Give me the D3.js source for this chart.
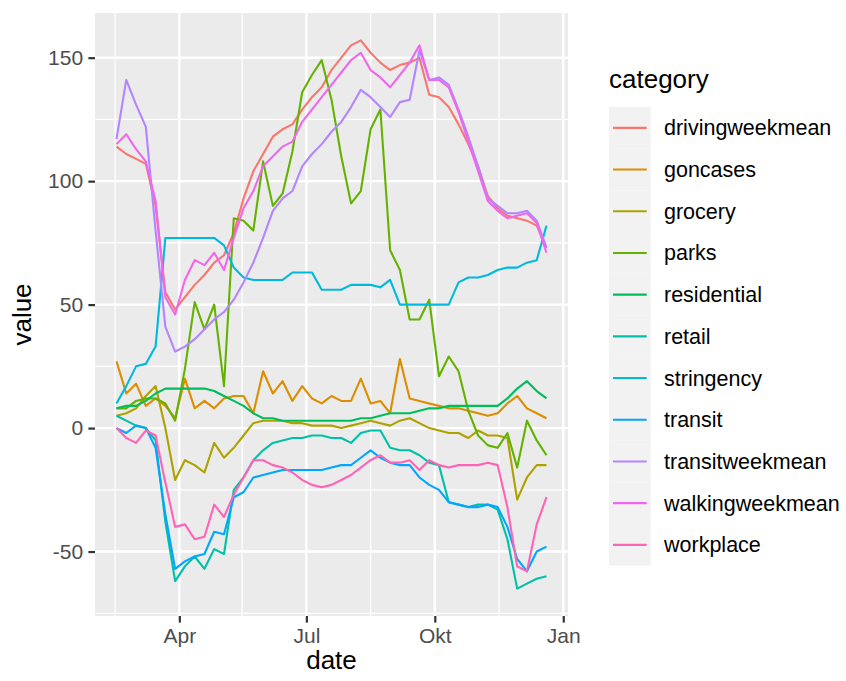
<!DOCTYPE html>
<html><head><meta charset="utf-8">
<script src="https://cdn.jsdelivr.net/npm/d3@7"></script>
<style>
body{margin:0;background:#fff;}
svg text{font-family:"Liberation Sans", Arial, sans-serif;}
</style>
</head><body>
<svg id="chart" width="846" height="681"></svg>
<script>
const dates = ["2020-02-16","2020-02-23","2020-03-01","2020-03-08","2020-03-15","2020-03-22","2020-03-29","2020-04-05","2020-04-12","2020-04-19","2020-04-26","2020-05-03","2020-05-10","2020-05-17","2020-05-24","2020-05-31","2020-06-07","2020-06-14","2020-06-21","2020-06-28","2020-07-05","2020-07-12","2020-07-19","2020-07-26","2020-08-02","2020-08-09","2020-08-16","2020-08-23","2020-08-30","2020-09-06","2020-09-13","2020-09-20","2020-09-27","2020-10-04","2020-10-11","2020-10-18","2020-10-25","2020-11-01","2020-11-08","2020-11-15","2020-11-22","2020-11-29","2020-12-06","2020-12-13","2020-12-20"];

const categories = ["drivingweekmean","goncases","grocery","parks","residential","retail","stringency","transit","transitweekmean","walkingweekmean","workplace"];
const colors = ["#F8766D","#DB8E00","#AEA200","#64B200","#00BD5C","#00C1A7","#00BADE","#00A6FF","#B385FF","#EF67EB","#FF63B6"];

const drivingweekmean = [114,111,109,107,90,55,48,53,58,62,67,70,79,93,104,111,118,121,123,129,134,138,145,150,155,157,152,148,145,147,148,150,135,134,130,123,115,106,94,89,86,85,84,82,73];
const goncases = [27,14,18,9,12,9,4,20,8,11,8,12,13,13,6,23,14,19,11,17,12,10,13,11,11,20,10,11,6,28,12,11,10,9,8,8,7,6,5,6,10,13,8,6,4];
const grocery = [5,6,8,13,17,0,-21,-13,-15,-18,-6,-12,-8,-3,2,3,3,3,2,2,1,1,1,0,1,2,3,2,1,3,4,2,0,-1,-2,-2,-4,-1,-3,-3,-4,-29,-20,-15,-15];
const parks = [8,8,11,12,12,10,3,24,51,40,50,17,85,84,80,108,90,95,112,136,143,149,133,110,91,96,121,129,72,64,44,44,52,21,29,23,7,-3,-7,-8,-2,-16,3,-5,-11];
const residential = [8,9,9,11,14,16,16,16,16,16,15,13,11,9,6,4,4,3,3,3,3,3,3,3,3,4,4,5,6,6,6,7,8,8,9,9,9,9,9,9,12,16,19,15,12];
const retail = [5,3,1,0,-5,-38,-62,-56,-52,-57,-49,-51,-25,-20,-13,-9,-6,-5,-4,-4,-3,-3,-4,-4,-6,-2,-1,-1,-8,-9,-9,-11,-14,-15,-30,-31,-32,-31,-31,-33,-45,-65,-63,-61,-60];
const stringency = [10,17,25,26,33,77,77,77,77,77,77,74,65,61,60,60,60,60,63,63,63,56,56,56,58,58,58,57,60,50,50,50,50,50,50,59,61,61,62,64,65,65,67,68,82];
const transit = [0,-2,1,0,-8,-35,-57,-54,-52,-51,-42,-43,-28,-26,-20,-19,-18,-17,-17,-17,-17,-17,-16,-15,-15,-12,-9,-12,-14,-15,-15,-20,-23,-25,-30,-31,-32,-32,-31,-32,-40,-53,-58,-50,-48];
const transitweekmean = [117,141,131,122,80,41,31,33,36,40,44,47,52,59,67,77,88,93,96,106,111,115,120,124,130,137,134,130,126,132,133,153,141,142,139,129,118,106,93,90,87,87,88,84,73];
const walkingweekmean = [115,119,113,108,92,53,46,60,68,66,71,64,77,89,96,106,110,114,116,124,129,134,139,144,149,152,145,142,138,143,148,155,141,141,138,128,116,104,92,88,85,86,87,83,71];
const workplace = [0,-4,-6,-1,-3,-22,-40,-39,-45,-44,-31,-36,-27,-20,-13,-13,-15,-16,-18,-21,-23,-24,-23,-21,-19,-16,-13,-11,-14,-14,-13,-17,-13,-15,-16,-15,-15,-15,-14,-15,-32,-56,-58,-39,-28];

const xTickDates = ["2020-04-01","2020-07-01","2020-10-01","2021-01-01"];
const xTickLabels = ["Apr","Jul","Okt","Jan"];
const xMinorDates = ["2020-02-15","2020-05-16","2020-08-16","2020-11-16"];
const yTicks = [-50,0,50,100,150];
const yMinor = [-75,-25,25,75,125];

const seriesValues = [drivingweekmean,goncases,grocery,parks,residential,retail,stringency,transit,transitweekmean,walkingweekmean,workplace];

const parse = d3.utcParse("%Y-%m-%d");
const dateObjs = dates.map(parse);

const panel = {left:95, right:568, top:13, bottom:616};
const svg = d3.select("#chart");

const xExt = d3.extent(dateObjs);
const xSpan = xExt[1] - xExt[0];
const x = d3.scaleUtc()
  .domain([new Date(+xExt[0] - 0.05*xSpan), new Date(+xExt[1] + 0.05*xSpan)])
  .range([panel.left, panel.right]);
const allVals = seriesValues.flat();
const yExt = d3.extent(allVals);
const ySpan = yExt[1]-yExt[0];
const y = d3.scaleLinear()
  .domain([yExt[0]-0.05*ySpan, yExt[1]+0.05*ySpan])
  .range([panel.bottom, panel.top]);

svg.append("rect").attr("x",panel.left).attr("y",panel.top)
  .attr("width",panel.right-panel.left).attr("height",panel.bottom-panel.top)
  .attr("fill","#EBEBEB");

const grid = svg.append("g");
grid.selectAll(".ym").data(yMinor.filter(v=>v>=y.domain()[0] && v<=y.domain()[1])).enter().append("line")
  .attr("x1",panel.left).attr("x2",panel.right)
  .attr("y1",d=>y(d)).attr("y2",d=>y(d))
  .attr("stroke","#fff").attr("stroke-width",1.2);
grid.selectAll(".xm").data(xMinorDates.map(parse)).enter().append("line")
  .attr("y1",panel.top).attr("y2",panel.bottom)
  .attr("x1",d=>x(d)).attr("x2",d=>x(d))
  .attr("stroke","#fff").attr("stroke-width",1.2);
grid.selectAll(".yM").data(yTicks).enter().append("line")
  .attr("x1",panel.left).attr("x2",panel.right)
  .attr("y1",d=>y(d)).attr("y2",d=>y(d))
  .attr("stroke","#fff").attr("stroke-width",2.4);
grid.selectAll(".xM").data(xTickDates.map(parse).filter(d=>x(d)<=panel.right)).enter().append("line")
  .attr("y1",panel.top).attr("y2",panel.bottom)
  .attr("x1",d=>x(d)).attr("x2",d=>x(d))
  .attr("stroke","#fff").attr("stroke-width",2.4);

const line = d3.line().x((d,i)=>x(dateObjs[i])).y(d=>y(d));
const linesG = svg.append("g");
categories.forEach((c,k)=>{
  linesG.append("path").datum(seriesValues[k])
    .attr("d",line).attr("fill","none")
    .attr("stroke",colors[k]).attr("stroke-width",2.1)
    .attr("stroke-linejoin","round").attr("stroke-linecap","butt");
});

const yAxis = d3.axisLeft(y).tickValues(yTicks).tickSize(6.6).tickPadding(5.3).tickFormat(d3.format("d"));
const yg = svg.append("g").attr("transform",`translate(${panel.left},0)`).call(yAxis);
yg.select(".domain").remove();
yg.selectAll(".tick line").attr("stroke","#333333").attr("stroke-width",2.2);
yg.selectAll(".tick text").attr("fill","#4D4D4D").style("font-size","21px").text(d=>d<0?"-"+Math.abs(d):d);

const xAxis = d3.axisBottom(x).tickValues(xTickDates.map(parse)).tickSize(6.6).tickPadding(5.3)
  .tickFormat((d,i)=>xTickLabels[i]);
const xg = svg.append("g").attr("transform",`translate(0,${panel.bottom})`).call(xAxis);
xg.select(".domain").remove();
xg.selectAll(".tick line").attr("stroke","#333333").attr("stroke-width",2.2);
xg.selectAll(".tick text").attr("fill","#4D4D4D").style("font-size","21px");

svg.append("text").attr("x",(panel.left+panel.right)/2).attr("y",669)
  .attr("text-anchor","middle").style("font-size","26px").attr("fill","#000").text("date");
svg.append("text").attr("transform",`translate(31,${(panel.top+panel.bottom)/2}) rotate(-90)`)
  .attr("text-anchor","middle").style("font-size","26px").attr("fill","#000").text("value");

const lg = svg.append("g");
lg.append("text").attr("x",609).attr("y",88).style("font-size","26px").attr("fill","#000").text("category");
const keyH = 41.7, keyTop = 107, keyX = 609;
categories.forEach((c,k)=>{
  const cy = keyTop + keyH*k;
  lg.append("rect").attr("x",keyX).attr("y",cy).attr("width",keyH).attr("height",keyH).attr("fill","#F2F2F2");
  lg.append("line").attr("x1",keyX+4).attr("x2",keyX+keyH-4)
    .attr("y1",cy+keyH/2).attr("y2",cy+keyH/2)
    .attr("stroke",colors[k]).attr("stroke-width",2.1);
  lg.append("text").attr("x",664).attr("y",cy+keyH/2).attr("dy","0.35em")
    .style("font-size","21.5px").attr("fill","#000").text(c);
});
</script>
</body></html>
